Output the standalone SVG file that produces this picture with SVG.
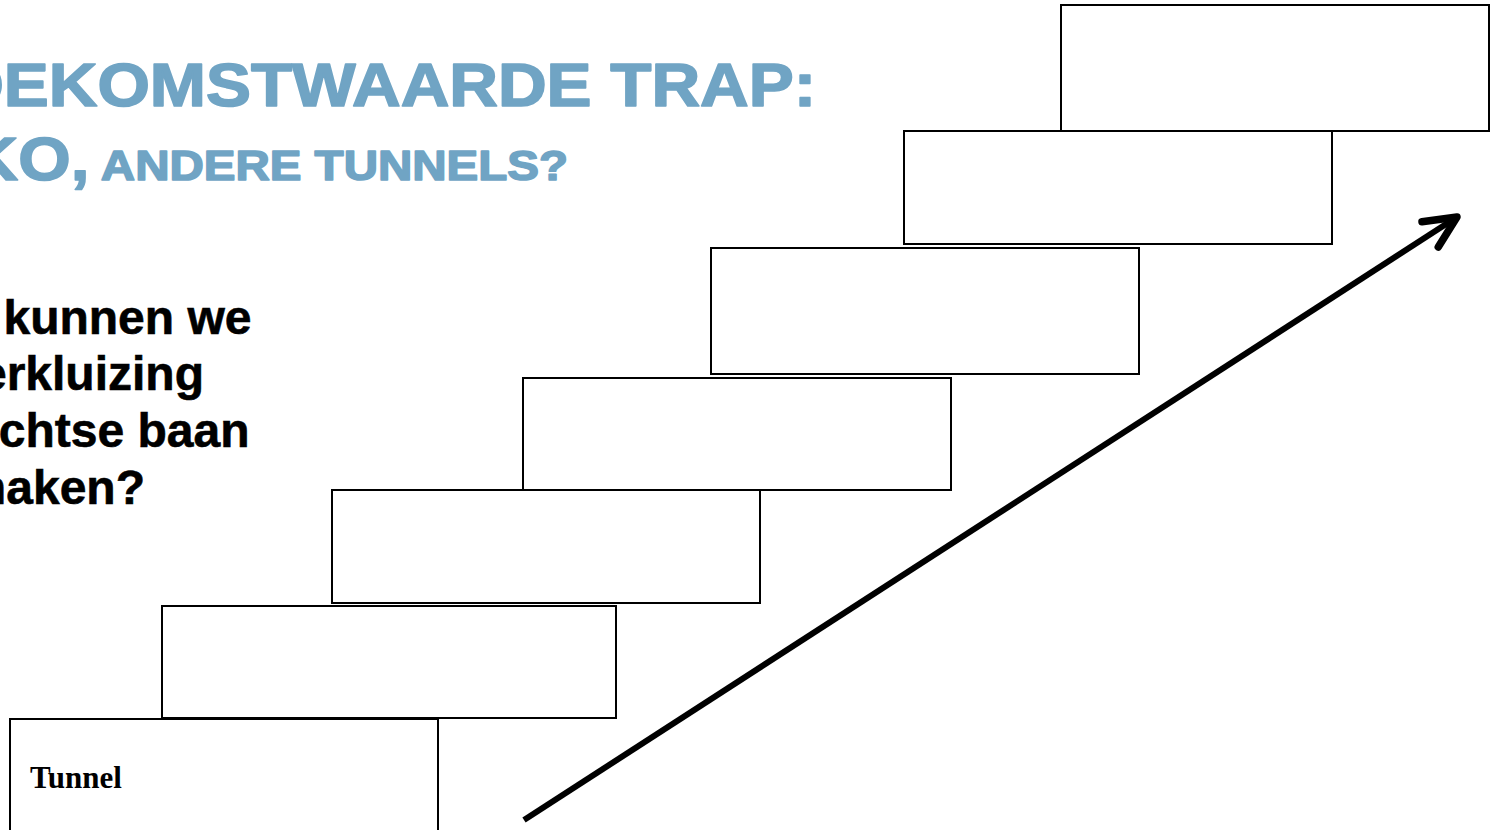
<svg xmlns="http://www.w3.org/2000/svg" width="1493" height="830" viewBox="0 0 1493 830">
<style>
.title{font-family:"Liberation Sans",Arial,sans-serif;font-weight:bold;fill:#70A4C4;stroke:#70A4C4;stroke-width:1.6;stroke-linejoin:round}
.body{font-family:"Liberation Sans",Arial,sans-serif;font-weight:bold;font-size:48px;fill:#000;stroke:#000;stroke-width:0.6}
.step{fill:#fff;stroke:#000;stroke-width:2}
.lbl{font-family:"Liberation Serif","Times New Roman",serif;font-weight:bold;font-size:31px;fill:#000}
.arrow{fill:none;stroke:#000;stroke-width:6}
</style>
<defs>
<marker id="head" markerUnits="userSpaceOnUse" markerWidth="60" markerHeight="60" viewBox="-40 -30 60 60" refX="0" refY="0" orient="auto" overflow="visible">
<path d="M-32,-15 L0,0 L-32,15" fill="none" stroke="#000" stroke-width="7.5" stroke-linecap="round" stroke-linejoin="round"/>
</marker>
</defs>
<rect width="1493" height="830" fill="#fff"/>
<g id="title" transform="scale(1.105,1)">
<text class="title" x="-44" y="106" font-size="61">OEKOMSTWAARDE TRAP:</text>
<text class="title" x="-27.5" y="180" font-size="61">KO,<tspan font-size="43"> ANDERE TUNNELS?</tspan></text>
</g>
<g id="question">
<text class="body" x="251.5" y="334" text-anchor="end">kunnen we</text>
<text class="body" x="204" y="390" text-anchor="end">erkluizing</text>
<text class="body" x="249.5" y="447" text-anchor="end">chtse baan</text>
<text class="body" x="145" y="504" text-anchor="end">maken?</text>
</g>
<g id="step1"><rect class="step" x="1061" y="5" width="428" height="126"/></g>
<g id="step2"><rect class="step" x="904" y="131" width="428" height="113"/></g>
<g id="step3"><rect class="step" x="711" y="248" width="428" height="126"/></g>
<g id="step4"><rect class="step" x="523" y="378" width="428" height="112"/></g>
<g id="step5"><rect class="step" x="332" y="490" width="428" height="113"/></g>
<g id="step6"><rect class="step" x="162" y="606" width="454" height="112"/></g>
<g id="step7"><rect class="step" x="10" y="719" width="428" height="120"/><text class="lbl" x="30" y="788">Tunnel</text></g>
<g id="connectors">
<path class="arrow" d="M524,820 L1457,217" marker-end="url(#head)"/>
</g>
</svg>
